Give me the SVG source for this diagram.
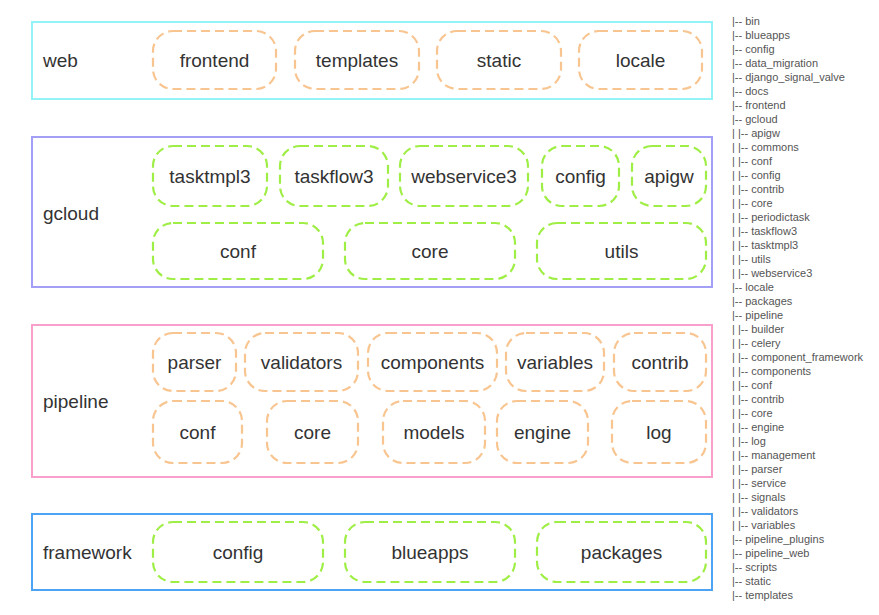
<svg xmlns="http://www.w3.org/2000/svg" width="879" height="615" viewBox="0 0 879 615">
<style>
.layer{fill:#fff;stroke-width:2}
.o{fill:#fff;stroke:#f8c48f;stroke-width:2.2;stroke-dasharray:9 5}
.g{fill:#fff;stroke:#9fee45;stroke-width:2.2;stroke-dasharray:9 5}
.t{font-family:"Liberation Sans",Arial,sans-serif;font-size:19px;fill:#333;text-anchor:middle}
.lbl{font-family:"Liberation Sans",Arial,sans-serif;font-size:19px;fill:#333}
.tree{font-family:"Liberation Sans",Arial,sans-serif;font-size:11px;fill:#555}
</style>
<rect width="879" height="615" fill="#fff"/>
<g id="connectors"></g>
<g id="web">
<rect class="layer" x="32" y="22" width="680" height="77" stroke="#94f3f6"/>
<text class="lbl" x="43" y="67">web</text>
</g>
<g id="web-frontend"><rect class="o" x="153" y="31" width="123" height="58" rx="20"/><text class="t" x="214.5" y="67">frontend</text></g>
<g id="web-templates"><rect class="o" x="295" y="31" width="124" height="58" rx="20"/><text class="t" x="357" y="67">templates</text></g>
<g id="web-static"><rect class="o" x="437" y="31" width="124" height="58" rx="20"/><text class="t" x="499" y="67">static</text></g>
<g id="web-locale"><rect class="o" x="579" y="31" width="123" height="58" rx="20"/><text class="t" x="640.5" y="67">locale</text></g>

<g id="gcloud">
<rect class="layer" x="32" y="137" width="680" height="150" stroke="#a39ff5"/>
<text class="lbl" x="43" y="220">gcloud</text>
</g>
<g id="gcloud-tasktmpl3"><rect class="g" x="153" y="146" width="114" height="60" rx="20"/><text class="t" x="210" y="183">tasktmpl3</text></g>
<g id="gcloud-taskflow3"><rect class="g" x="280" y="146" width="108" height="60" rx="20"/><text class="t" x="334" y="183">taskflow3</text></g>
<g id="gcloud-webservice3"><rect class="g" x="400" y="146" width="128" height="60" rx="20"/><text class="t" x="464" y="183">webservice3</text></g>
<g id="gcloud-config"><rect class="g" x="542" y="146" width="77" height="60" rx="20"/><text class="t" x="580.5" y="183">config</text></g>
<g id="gcloud-apigw"><rect class="g" x="632" y="146" width="74" height="60" rx="20"/><text class="t" x="669" y="183">apigw</text></g>
<g id="gcloud-conf"><rect class="g" x="153" y="223" width="170" height="56" rx="20"/><text class="t" x="238" y="258">conf</text></g>
<g id="gcloud-core"><rect class="g" x="345" y="223" width="170" height="56" rx="20"/><text class="t" x="430" y="258">core</text></g>
<g id="gcloud-utils"><rect class="g" x="537" y="223" width="169" height="56" rx="20"/><text class="t" x="621.5" y="258">utils</text></g>

<g id="pipeline">
<rect class="layer" x="32" y="325" width="680" height="152" stroke="#f8a0cb"/>
<text class="lbl" x="43" y="408">pipeline</text>
</g>
<g id="pipeline-parser"><rect class="o" x="153" y="333" width="83" height="58" rx="20"/><text class="t" x="194.5" y="369">parser</text></g>
<g id="pipeline-validators"><rect class="o" x="245" y="333" width="113" height="58" rx="20"/><text class="t" x="301.5" y="369">validators</text></g>
<g id="pipeline-components"><rect class="o" x="368" y="333" width="129" height="58" rx="20"/><text class="t" x="432.5" y="369">components</text></g>
<g id="pipeline-variables"><rect class="o" x="506" y="333" width="98" height="58" rx="20"/><text class="t" x="555" y="369">variables</text></g>
<g id="pipeline-contrib"><rect class="o" x="614" y="333" width="92" height="58" rx="20"/><text class="t" x="660" y="369">contrib</text></g>
<g id="pipeline-conf"><rect class="o" x="153" y="401" width="89" height="62" rx="20"/><text class="t" x="197.5" y="439">conf</text></g>
<g id="pipeline-core"><rect class="o" x="267" y="401" width="91" height="62" rx="20"/><text class="t" x="312.5" y="439">core</text></g>
<g id="pipeline-models"><rect class="o" x="383" y="401" width="102" height="62" rx="20"/><text class="t" x="434" y="439">models</text></g>
<g id="pipeline-engine"><rect class="o" x="497" y="401" width="91" height="62" rx="20"/><text class="t" x="542.5" y="439">engine</text></g>
<g id="pipeline-log"><rect class="o" x="612" y="401" width="94" height="62" rx="20"/><text class="t" x="659" y="439">log</text></g>

<g id="framework">
<rect class="layer" x="32" y="514" width="680" height="76" stroke="#4da3f5"/>
<text class="lbl" x="43" y="559">framework</text>
</g>
<g id="framework-config"><rect class="g" x="153" y="522" width="170" height="60" rx="20"/><text class="t" x="238" y="559">config</text></g>
<g id="framework-blueapps"><rect class="g" x="345" y="522" width="170" height="60" rx="20"/><text class="t" x="430" y="559">blueapps</text></g>
<g id="framework-packages"><rect class="g" x="537" y="522" width="169" height="60" rx="20"/><text class="t" x="621.5" y="559">packages</text></g>

<g id="tree" class="tree">
<text x="732" y="25">|-- bin</text>
<text x="732" y="39">|-- blueapps</text>
<text x="732" y="53">|-- config</text>
<text x="732" y="67">|-- data_migration</text>
<text x="732" y="81">|-- django_signal_valve</text>
<text x="732" y="95">|-- docs</text>
<text x="732" y="109">|-- frontend</text>
<text x="732" y="123">|-- gcloud</text>
<text x="732" y="137">| |-- apigw</text>
<text x="732" y="151">| |-- commons</text>
<text x="732" y="165">| |-- conf</text>
<text x="732" y="179">| |-- config</text>
<text x="732" y="193">| |-- contrib</text>
<text x="732" y="207">| |-- core</text>
<text x="732" y="221">| |-- periodictask</text>
<text x="732" y="235">| |-- taskflow3</text>
<text x="732" y="249">| |-- tasktmpl3</text>
<text x="732" y="263">| |-- utils</text>
<text x="732" y="277">| |-- webservice3</text>
<text x="732" y="291">|-- locale</text>
<text x="732" y="305">|-- packages</text>
<text x="732" y="319">|-- pipeline</text>
<text x="732" y="333">| |-- builder</text>
<text x="732" y="347">| |-- celery</text>
<text x="732" y="361">| |-- component_framework</text>
<text x="732" y="375">| |-- components</text>
<text x="732" y="389">| |-- conf</text>
<text x="732" y="403">| |-- contrib</text>
<text x="732" y="417">| |-- core</text>
<text x="732" y="431">| |-- engine</text>
<text x="732" y="445">| |-- log</text>
<text x="732" y="459">| |-- management</text>
<text x="732" y="473">| |-- parser</text>
<text x="732" y="487">| |-- service</text>
<text x="732" y="501">| |-- signals</text>
<text x="732" y="515">| |-- validators</text>
<text x="732" y="529">| |-- variables</text>
<text x="732" y="543">|-- pipeline_plugins</text>
<text x="732" y="557">|-- pipeline_web</text>
<text x="732" y="571">|-- scripts</text>
<text x="732" y="585">|-- static</text>
<text x="732" y="599">|-- templates</text>
</g>
</svg>
